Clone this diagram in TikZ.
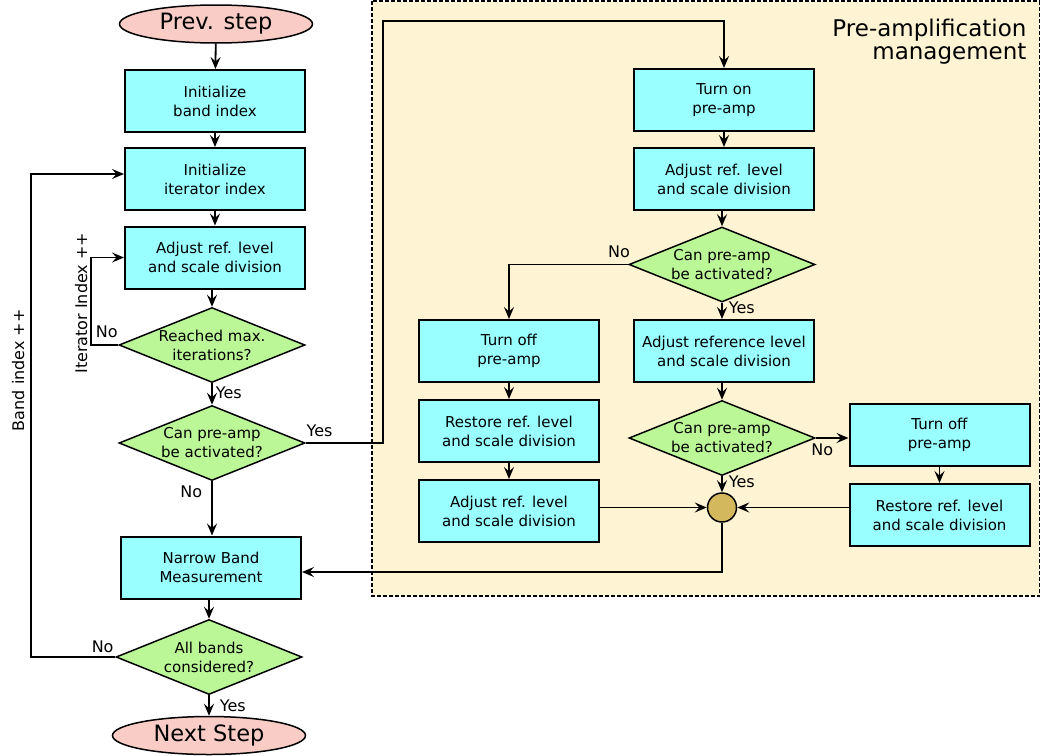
\documentclass[tikz,border=0pt]{standalone}
\usepackage{fontspec}
\setmainfont{DejaVu Sans}
\usetikzlibrary{arrows.meta,shapes.geometric}
\definecolor{boxcyan}{HTML}{99FFFF}
\definecolor{testgreen}{HTML}{BBF797}
\definecolor{termpink}{HTML}{F9CCC6}
\definecolor{areacream}{HTML}{FEF4D4}
\definecolor{joingold}{HTML}{D4B85E}

\begin{document}
\begin{tikzpicture}[x=1pt,y=-1pt,
box/.style={draw,line width=2pt,fill=boxcyan,minimum width=180pt,minimum height=62pt,
	align=center,inner sep=2pt,font=\fontsize{15}{19}\selectfont},
test/.style={draw,diamond,aspect=2.5,inner sep=0pt,line width=1.5pt,fill=testgreen,
	minimum width=186pt,minimum height=75pt,align=center,font=\fontsize{15}{19}\selectfont},
term/.style={draw,ellipse,line width=1.5pt,fill=termpink,minimum width=193pt,minimum height=38pt,
	inner sep=0pt,font=\fontsize{22.5}{24}\selectfont},
junction/.style={draw,circle,line width=1.5pt,fill=joingold,minimum size=29pt,inner sep=0pt},
lbl/.style={font=\fontsize{16}{18}\selectfont,inner sep=1pt},
line/.style={line width=1.8pt,-{Stealth[length=12pt,width=10pt,inset=4.5pt]}}]

\useasboundingbox (0,0) rectangle (1040,755);

%pre-amplification area
\draw[fill=areacream,dashed,line width=1.2pt,dash pattern=on 4pt off 2pt] (372,1) rectangle (1039.5,596);
\node[anchor=east,align=right,font=\fontsize{23}{23}\selectfont] (title) at (1030,42) {Pre-amplification\\management};

%main column
\node[term] (prev) at (216,24) {Prev. step};
\node[box] (init1) at (215,101) {Initialize\\band index};
\node[box] (init2) at (215,179) {Initialize\\iterator index};
\node[box] (adj1) at (215,257.5) {Adjust ref. level\\and scale division};
\node[test] (reached) at (212,345) {Reached max.\\iterations?};
\node[test] (canpre) at (212,443) {Can pre-amp\\be activated?};
\node[box] (nb) at (211,567.5) {Narrow Band\\Measurement};
\node[test] (bands) at (209,657) {All bands\\considered?};
\node[term] (next) at (209,735.5) {Next Step};

%pre-amp column
\node[box] (turnon) at (724,100) {Turn on\\pre-amp};
\node[box] (adj2) at (724,179) {Adjust ref. level\\and scale division};
\node[test] (pa) at (722,264.5) {Can pre-amp\\be activated?};
\node[box] (adj3) at (724,351) {Adjust reference level\\and scale division};
\node[test] (pb) at (722,438) {Can pre-amp\\be activated?};
\node[junction] (jn) at (722,507.5) {};

%left branch
\node[box] (off1) at (509,351) {Turn off\\pre-amp};
\node[box] (rest1) at (509,431) {Restore ref. level\\and scale division};
\node[box] (adj4) at (509,511) {Adjust ref. level\\and scale division};

%right branch
\node[box] (off2) at (939.5,435) {Turn off\\pre-amp};
\node[box] (rest2) at (939.5,515) {Restore ref. level\\and scale division};

%main column connectors
\draw[line] (prev) -- (init1);
\draw[line] (init1) -- (init2);
\draw[line] (init2) -- (adj1);
\draw[line] (adj1.south -| reached.north) -- (reached);
\draw[line] (reached) -- node[lbl,right,pos=0.45,xshift=2pt]{Yes} (canpre);
\draw[line] (canpre) -- node[lbl,left,pos=0.2,xshift=-8pt]{No} (canpre.south |- nb.north);
\draw[line] (nb.south -| bands.north) -- (bands);
\draw[line] (bands) -- node[lbl,right,pos=0.5,xshift=9pt]{Yes} (next);

%loops
\draw[line] (reached.west) -- node[lbl,above,xshift=2pt,yshift=5pt]{No} ++(-27,0)
	|- node[lbl,rotate=90,above,pos=0.25,xshift=-2pt,yshift=2pt]{Iterator Index ++} (adj1.west);
\draw[line] (bands.west) -- node[lbl,above,pos=0.15,yshift=2pt]{No} ++(-84,0)
	|- node[lbl,rotate=90,above,pos=0.3,xshift=-3pt,yshift=5pt]{Band index ++} ([yshift=5pt]init2.west);

%into the pre-amp area
\draw[line] (canpre.east) -- node[lbl,above,pos=0.18,yshift=4pt]{Yes} ++(77,0)
	|- ([yshift=47pt]turnon.north) -- (turnon.north);

%pre-amp connectors
\draw[line] (turnon) -- (adj2);
\draw[line] (adj2.south -| pa.north) -- (pa);
\draw[line] (pa) -- node[lbl,right,pos=0.3,xshift=5pt]{Yes} (pa.south |- adj3.north);
\draw[line] (pa.west) -| node[lbl,above,pos=0.03,xshift=-2pt,yshift=5pt]{No} (off1.north);
\draw[line] (adj3.south -| pb.north) -- (pb);
\draw[line] (pb) -- node[lbl,right,pos=0.35,xshift=5pt]{Yes} (jn);
\draw[line] (pb.east) -- node[lbl,below,pos=0.2,yshift=-4pt]{No} (pb.east -| off2.west);
\draw[line] (off1) -- (rest1);
\draw[line] (rest1) -- (adj4);
\draw[line] (off2) -- (rest2);
\draw[line] (adj4.east |- jn.west) -- (jn.west);
\draw[line] (rest2.west |- jn.east) -- (jn.east);
\draw[line] (jn.south) |- ([yshift=-4.5pt]nb.east);

\end{tikzpicture}
\end{document}
